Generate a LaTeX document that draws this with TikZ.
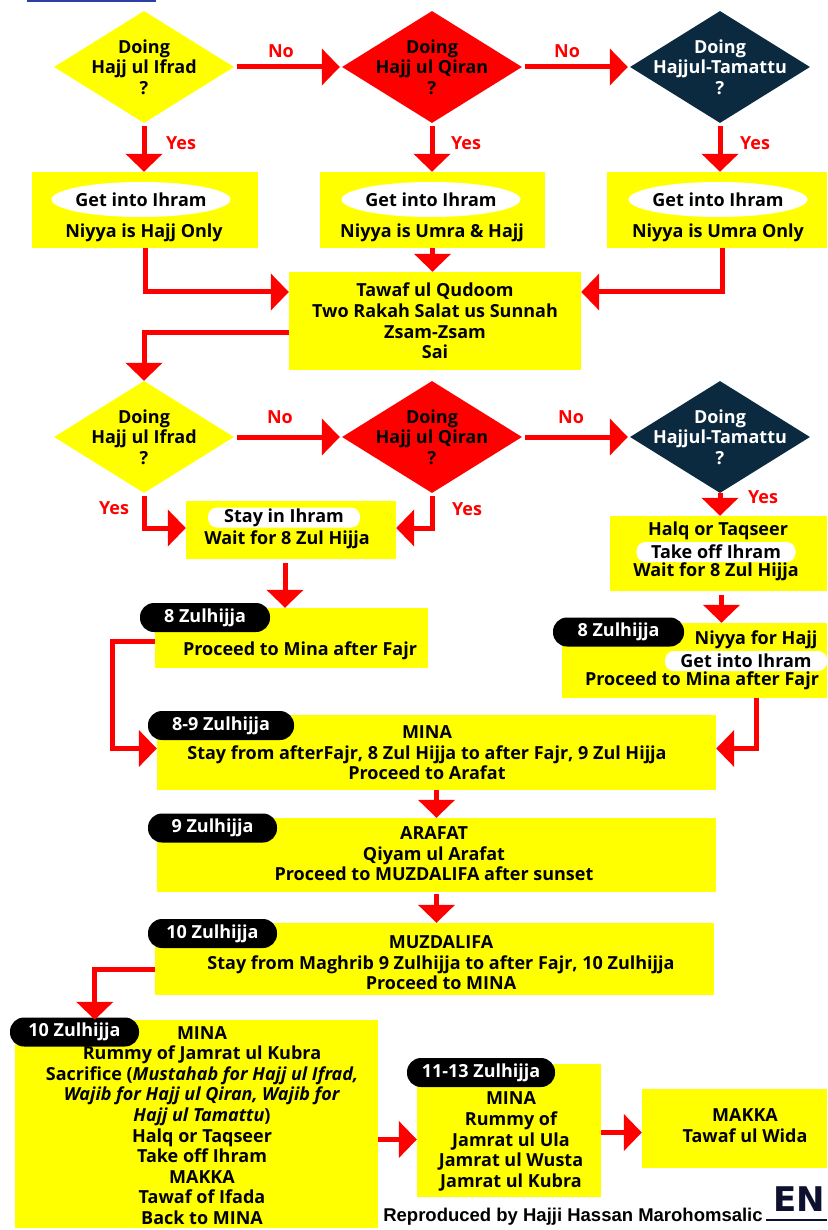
\documentclass[tikz,border=0pt]{standalone}
\usepackage{fontspec}
\setmainfont{Open Sans}
\newfontfamily\creditfont{Liberation Sans}
\newfontfamily\markfont{DejaVu Sans}
\usetikzlibrary{arrows.meta,shapes.geometric}
\definecolor{hajjyellow}{HTML}{FFFF00}
\definecolor{hajjred}{HTML}{FF0000}
\definecolor{hajjnavy}{HTML}{0B2A3F}
\definecolor{hajjblue}{HTML}{2A3FA8}
\definecolor{hajjink}{HTML}{0E1030}

\begin{document}
\begin{tikzpicture}[x=1pt,y=-1pt,>={Triangle[width=36pt,length=18pt]},
  flow/.style={->,draw=hajjred,line width=5pt},
  txt/.style={font=\bfseries\fontsize{18}{20.6}\selectfont,align=center,inner sep=0pt},
  decision/.style={diamond,txt,inner sep=-22pt,minimum width=180pt,minimum height=112pt},
  stepbox/.style={rectangle,fill=hajjyellow,inner sep=0pt},
  ihram/.style={ellipse,fill=white,txt,inner xsep=-6pt,minimum width=179pt,minimum height=35pt},
  pill/.style={rectangle,rounded corners=9pt,fill=white,txt,minimum height=20pt},
  datetag/.style={rectangle,rounded corners=14pt,fill=black,text=white,txt,minimum height=29pt},
  answer/.style={text=hajjred,font=\bfseries\fontsize{18}{20}\selectfont}]

 \useasboundingbox (0,0) rectangle (827,1230);
 \draw[hajjblue,line width=2pt] (27,0.8) -- (156,0.8);

 % first choice
 \node[decision,fill=hajjyellow] (ifrad1) at (144,67) {Doing\\Hajj ul Ifrad\\?};
 \node[decision,fill=hajjred] (qiran1) at (432,67) {Doing\\Hajj ul Qiran\\?};
 \node[decision,fill=hajjnavy,text=white] (tamattu1) at (720,67) {Doing\\Hajjul-Tamattu\\?};

 \node[stepbox,minimum width=226pt,minimum height=76pt] (hajjonly) at (145,210) {};
 \node[ihram] (ihram1) at (141,199.5) {Get into Ihram};
 \node[txt] (niyya1) at (144,233) {Niyya is Hajj Only};
 \node[stepbox,minimum width=225pt,minimum height=76pt] (umrahajj) at (432.5,210) {};
 \node[ihram] (ihram2) at (431,199.5) {Get into Ihram};
 \node[txt] (niyya2) at (432,233) {Niyya is Umra \& Hajj};
 \node[stepbox,minimum width=220pt,minimum height=76pt] (umraonly) at (717,210) {};
 \node[ihram] (ihram3) at (718,199.5) {Get into Ihram};
 \node[txt] (niyya3) at (718,233) {Niyya is Umra Only};

 \node[stepbox,txt,minimum width=292pt,minimum height=98pt] (qudoom) at (435,321)
   {Tawaf ul Qudoom\\Two Rakah Salat us Sunnah\\Zsam-Zsam\\Sai};

 % second choice
 \node[decision,fill=hajjyellow] (ifrad2) at (144,437) {Doing\\Hajj ul Ifrad\\?};
 \node[decision,fill=hajjred] (qiran2) at (432,437) {Doing\\Hajj ul Qiran\\?};
 \node[decision,fill=hajjnavy,text=white] (tamattu2) at (720,437) {Doing\\Hajjul-Tamattu\\?};

 \node[stepbox,minimum width=210pt,minimum height=58pt] (stayihram) at (291,530) {};
 \node[pill,minimum width=152pt] (stay) at (284,517.5) {Stay in Ihram};
 \node[txt] (wait1) at (287,540) {Wait for 8 Zul Hijja};

 \node[stepbox,minimum width=217pt,minimum height=75pt] (halqbox) at (718.5,553.5) {};
 \node[txt] (halq1) at (718,531) {Halq or Taqseer};
 \node[pill,minimum width=159pt] (takeoff1) at (716,552) {Take off Ihram};
 \node[txt] (wait2) at (716,572) {Wait for 8 Zul Hijja};

 % 8 Zulhijja
 \node[stepbox,minimum width=273pt,minimum height=60pt] (eightleft) at (291.5,638) {};
 \node[datetag,minimum width=130pt] (tag8a) at (205,617.5) {8 Zulhijja};
 \node[txt] (proceed1) at (300,651) {Proceed to Mina after Fajr};

 \node[stepbox,minimum width=265pt,minimum height=75pt] (eightright) at (694.5,660.5) {};
 \node[datetag,minimum width=131pt] (tag8b) at (618.5,632) {8 Zulhijja};
 \node[txt] (niyyahajj) at (756,640) {Niyya for Hajj};
 \node[pill,minimum width=162pt] (ihram4) at (746,661) {Get into Ihram};
 \node[txt] (proceed2) at (702,681) {Proceed to Mina after Fajr};

 % the days
 \node[stepbox,minimum width=559pt,minimum height=75pt] (mina) at (436.5,752.5) {};
 \node[datetag,minimum width=146pt] (tag89) at (221,725.5) {8-9 Zulhijja};
 \node[txt] (minatext) at (427,753)
   {MINA\\Stay from afterFajr, 8 Zul Hijja to after Fajr, 9 Zul Hijja\\Proceed to Arafat};

 \node[stepbox,minimum width=559pt,minimum height=74pt] (arafat) at (436.5,855) {};
 \node[datetag,minimum width=129pt] (tag9) at (212.5,828) {9 Zulhijja};
 \node[txt] (arafattext) at (434,854)
   {ARAFAT\\Qiyam ul Arafat\\Proceed to MUZDALIFA after sunset};

 \node[stepbox,minimum width=559pt,minimum height=72pt] (muzdalifa) at (434.5,959) {};
 \node[datetag,minimum width=129pt] (tag10a) at (212.5,933.5) {10 Zulhijja};
 \node[txt] (muzdtext) at (441,963)
   {MUZDALIFA\\Stay from Maghrib 9 Zulhijja to after Fajr, 10 Zulhijja\\Proceed to MINA};

 \node[stepbox,minimum width=363pt,minimum height=208pt] (minaday) at (196.5,1124) {};
 \node[txt] (minadaytext) at (202,1125.5)
   {MINA\\Rummy of Jamrat ul Kubra\\Sacrifice (\textit{Mustahab for Hajj ul Ifrad,}\\
    \textit{Wajib for Hajj ul Qiran, Wajib for}\\\textit{Hajj ul Tamattu})\\Halq or Taqseer\\
    Take off Ihram\\MAKKA\\Tawaf of Ifada\\Back to MINA};
 \node[datetag,minimum width=129pt] (tag10b) at (74.5,1032) {10 Zulhijja};

 \node[stepbox,minimum width=184pt,minimum height=133pt] (tashriq) at (509,1130.5) {};
 \node[datetag,minimum width=148pt] (tag1113) at (481,1072.5) {11-13 Zulhijja};
 \node[txt] (tashriqtext) at (511,1141.5)
   {MINA\\Rummy of\\Jamrat ul Ula\\Jamrat ul Wusta\\Jamrat ul Kubra};

 \node[stepbox,minimum width=185pt,minimum height=79pt] (makka) at (734.5,1128.5) {};
 \node[txt] (makkatext) at (745,1125.5) {MAKKA\\Tawaf ul Wida};

 \node[font=\creditfont\bfseries\fontsize{18.5}{20}\selectfont,inner sep=0pt] (credit) at (573,1217)
   {Reproduced by Hajji Hassan Marohomsalic};
 \node[font=\markfont\bfseries\fontsize{34}{36}\selectfont,text=hajjink,inner sep=0pt] (en) at (799,1199) {EN};
 \draw[hajjink,line width=2pt] (766,1220) -- (827,1220);

 % answers
 \node[answer] (no1) at (281,51) {No};
 \node[answer] (no2) at (567,51) {No};
 \node[answer] (yes1) at (181,143) {Yes};
 \node[answer] (yes2) at (466,143) {Yes};
 \node[answer] (yes3) at (755,143) {Yes};
 \node[answer] (no3) at (280,417) {No};
 \node[answer] (no4) at (571,417) {No};
 \node[answer] (yes4) at (114,508) {Yes};
 \node[answer] (yes5) at (467,509) {Yes};
 \node[answer] (yes6) at (763,497) {Yes};

 % connectors
 \draw[flow] ([xshift=3pt]ifrad1.east) -- ([xshift=-2pt]qiran1.west);
 \draw[flow] ([xshift=3pt]qiran1.east) -- ([xshift=-2pt]tamattu1.west);
 \draw[flow] ([yshift=-3pt]ifrad1.south) -- (ifrad1.south |- hajjonly.north);
 \draw[flow] ([yshift=-3pt]qiran1.south) -- (qiran1.south |- umrahajj.north);
 \draw[flow] ([yshift=-3pt]tamattu1.south) -- (tamattu1.south |- umraonly.north);
 \draw[flow] (hajjonly.south) |- ([yshift=29pt]qudoom.west);
 \draw[flow] (umrahajj.south) -- (umrahajj.south |- qudoom.north);
 \draw[flow] ([xshift=5pt]umraonly.south) |- ([yshift=29pt]qudoom.east);
 \draw[flow] ([yshift=-11pt]qudoom.west) -| (ifrad2.north);

 \draw[flow] ([xshift=3pt]ifrad2.east) -- ([xshift=-2pt]qiran2.west);
 \draw[flow] ([xshift=3pt]qiran2.east) -- ([xshift=-2pt]tamattu2.west);
 \draw[flow] ([yshift=-3pt]ifrad2.south) |- ([yshift=2pt]stayihram.west);
 \draw[flow] ([yshift=-3pt]qiran2.south) |- ([yshift=2pt]stayihram.east);
 \draw[flow] (tamattu2.south) -- (tamattu2.south |- halqbox.north);
 \draw[flow] ([xshift=-6pt,yshift=-4pt]stayihram.south) -- ([xshift=-6pt]stayihram.south |- eightleft.north);
 \draw[flow] ([xshift=3pt,yshift=-4pt]halqbox.south) -- ([xshift=3pt]halqbox.south |- eightright.north);

 \draw[flow] ([yshift=-3pt]eightleft.west) -- ++(-42,0) |- ([yshift=4pt]mina.west);
 \draw[flow] ([xshift=62pt]eightright.south) |- ([yshift=4pt]mina.east);
 \draw[flow] (mina.south) -- (mina.south |- arafat.north);
 \draw[flow] ([yshift=-2pt]arafat.south) -- (arafat.south |- muzdalifa.north);
 \draw[flow] ([yshift=-10pt]muzdalifa.west) -| ([xshift=80pt]minaday.north west);
 \draw[flow] ([yshift=-9pt]tashriq.west -| minaday.east) -- ([yshift=-9pt]tashriq.west);
 \draw[flow] ([yshift=-2pt]tashriq.east) -- ([yshift=-2pt]tashriq.east -| makka.west);

\end{tikzpicture}
\end{document}
